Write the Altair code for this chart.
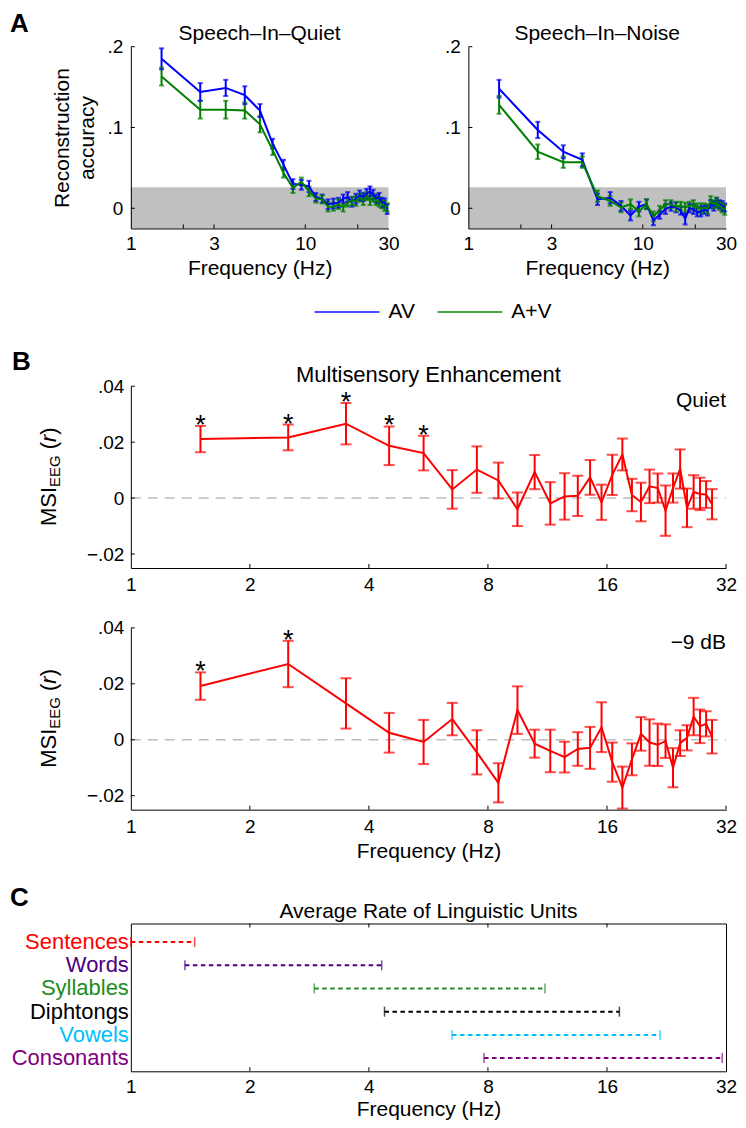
import altair as alt
import pandas as pd

FONT = "Liberation Sans"

# ---------------- data ----------------
freqs = [1.5, 2.5, 3.5, 4.5, 5.5, 6.5, 7.5, 8.5, 9.5, 10.5, 11.5, 12.5, 13.5, 14.5,
         15.5, 16.5, 17.5, 18.5, 19.5, 20.5, 21.5, 22.5, 23.5, 24.5, 25.5, 26.5,
         27.5, 28.5, 29.5]

# Panel A: reconstruction accuracy
a_series = ["AV", "A+V"]
a_colors = ["#0000ff", "#008000"]
quiet_av = [0.185, 0.144, 0.149, 0.140, 0.121, 0.080, 0.054, 0.030, 0.029, 0.027,
            0.014, 0.012, 0.005, 0.006, 0.007, 0.012, 0.014, 0.008, 0.012, 0.016,
            0.014, 0.018, 0.021, 0.017, 0.012, 0.013, 0.007, 0.007, -0.001]
quiet_av_err = [0.013, 0.011, 0.010, 0.011, 0.008, 0.006, 0.006, 0.006, 0.006, 0.007,
                0.005, 0.005, 0.006, 0.006, 0.006, 0.005, 0.006, 0.006, 0.006, 0.006,
                0.005, 0.006, 0.006, 0.006, 0.005, 0.006, 0.006, 0.005, 0.006]
quiet_apv = [0.163, 0.122, 0.122, 0.121, 0.104, 0.072, 0.044, 0.025, 0.033, 0.021,
             0.012, 0.011, 0.002, 0.002, 0.005, 0.001, 0.007, 0.009, 0.009, 0.013,
             0.010, 0.015, 0.010, 0.013, 0.009, 0.008, 0.005, 0.003, 0.001]
quiet_apv_err = [0.011, 0.011, 0.011, 0.010, 0.010, 0.006, 0.006, 0.006, 0.005, 0.006,
                 0.005, 0.005, 0.006, 0.005, 0.006, 0.005, 0.005, 0.005, 0.006, 0.005,
                 0.006, 0.005, 0.006, 0.005, 0.005, 0.006, 0.005, 0.006, 0.005]
noise_av = [0.148, 0.097, 0.070, 0.060, 0.011, 0.013, 0.003, -0.009, 0.002, 0.005,
            -0.015, -0.008, -0.001, 0.002, 0.001, -0.003, -0.013, 0.000, -0.001, -0.005,
            -0.004, -0.002, -0.003, 0.005, 0.003, 0.007, 0.005, 0.003, 0.001]
noise_av_err = [0.011, 0.010, 0.008, 0.008, 0.007, 0.007, 0.006, 0.006, 0.006, 0.006,
                0.006, 0.005, 0.006, 0.005, 0.006, 0.005, 0.007, 0.005, 0.006, 0.005,
                0.006, 0.005, 0.006, 0.005, 0.006, 0.006, 0.005, 0.006, 0.005]
noise_apv = [0.128, 0.070, 0.057, 0.057, 0.015, 0.009, 0.001, 0.005, -0.004, 0.005,
             -0.010, -0.002, 0.005, 0.005, 0.002, 0.003, 0.001, 0.003, 0.005, 0.001,
             0.000, 0.001, -0.001, 0.009, 0.005, 0.007, 0.003, 0.001, -0.002]
noise_apv_err = [0.011, 0.009, 0.007, 0.007, 0.007, 0.006, 0.006, 0.006, 0.006, 0.006,
                 0.006, 0.005, 0.005, 0.005, 0.006, 0.005, 0.006, 0.005, 0.005, 0.005,
                 0.006, 0.005, 0.006, 0.006, 0.005, 0.006, 0.005, 0.006, 0.006]
a_band_top = [0.026, 0.026]          # chance level band (Quiet, Noise)
a_titles = ["Speech\u2013In\u2013Quiet", "Speech\u2013In\u2013Noise"]
a_xdomain = [1, 30]
a_ydomain = [-0.025, 0.2]
a_xtick_vals = [1, 3, 10, 30]
a_xtick_labels = ["1", "3", "10", "30"]
a_xtick_inner = [2, 3, 10, 20]
a_ytick_vals = [0, 0.1, 0.2]
a_ytick_labels = ["0", ".1", ".2"]

# Panel B: multisensory enhancement
msi_quiet = [0.0211, 0.0217, 0.0266, 0.0187, 0.0161, 0.0031, 0.0102, 0.0063, -0.0040, 0.0093,
             -0.0019, 0.0006, 0.0008, 0.0074, -0.0015, 0.0083, 0.0156, 0.0011, -0.0014, 0.0042,
             0.0036, -0.0045, 0.0036, 0.0104, -0.0035, 0.0022, 0.0015, 0.0013, -0.0022]
msi_quiet_err = [0.0047, 0.0046, 0.0074, 0.0069, 0.0062, 0.0069, 0.0083, 0.0064, 0.0060, 0.0061,
                 0.0076, 0.0083, 0.0072, 0.0062, 0.0063, 0.0072, 0.0057, 0.0058, 0.0069, 0.0060,
                 0.0052, 0.0090, 0.0052, 0.0070, 0.0069, 0.0060, 0.0058, 0.0048, 0.0054]
msi_noise = [0.0192, 0.0271, 0.0130, 0.0025, -0.0008, 0.0074, -0.0045, -0.0154, 0.0106, -0.0014,
             -0.0040, -0.0062, -0.0033, -0.0029, 0.0045, -0.0080, -0.0171, -0.0070, 0.0021, -0.0010,
             -0.0018, -0.0005, -0.0100, -0.0012, 0.0007, 0.0083, 0.0048, 0.0057, 0.0011]
msi_noise_err = [0.0049, 0.0083, 0.0090, 0.0071, 0.0079, 0.0058, 0.0079, 0.0070, 0.0085, 0.0050,
                 0.0076, 0.0055, 0.0060, 0.0075, 0.0089, 0.0070, 0.0075, 0.0057, 0.0060, 0.0083,
                 0.0076, 0.0060, 0.0070, 0.0046, 0.0045, 0.0067, 0.0060, 0.0045, 0.0060]
sig_quiet = [1.5, 2.5, 3.5, 4.5, 5.5]
sig_noise = [1.5, 2.5]
b_conditions = ["Quiet", "\u22129 dB"]
b_title = "Multisensory Enhancement"
b_xdomain = [1, 32]
b_ydomain = [-0.025, 0.04]
b_xtick_vals = [1, 2, 4, 8, 16, 32]
b_xtick_labels = ["1", "2", "4", "8", "16", "32"]
b_xtick_inner = [2, 4, 8, 16, 32]
b_ytick_vals = [-0.02, 0, 0.02, 0.04]
b_ytick_labels = ["\u2212.02", "0", ".02", ".04"]

# Panel C: linguistic unit rates
units = ["Sentences", "Words", "Syllables", "Diphtongs", "Vowels", "Consonants"]
unit_rows = [1, 2, 3, 4, 5, 6]
unit_lo = [1.0, 1.37, 2.91, 4.38, 6.49, 7.82]
unit_hi = [1.45, 4.31, 11.15, 17.2, 21.8, 31.3]
unit_colors = ["#ff0000", "#4b0082", "#228b22", "#000000", "#00bfff", "#800080"]
c_title = "Average Rate of Linguistic Units"
c_ydomain = [0.2, 6.57]

# ---------------- helpers ----------------
def lab_expr(vals, labels):
    parts = [f"abs(datum.value - ({v})) < 1e-9 ? '{l}'" for v, l in zip(vals, labels)]
    return " : ".join(parts) + " : ''"

AX = dict(labelFont=FONT, labelFontSize=19, labelColor="black", titleFont=FONT,
          titleFontSize=21, titleFontWeight="normal", titleColor="black",
          domainColor="black", domainWidth=1, ticks=False, tickSize=0, grid=False,
          labelFlush=False, labelOverlap=False, zindex=1)


def text_layer(txt, x, y, size, align="left", baseline="alphabetic", weight="normal",
               angle=0, style="normal", color="black"):
    return alt.Chart(pd.DataFrame({"t": [txt]})).mark_text(
        font=FONT, fontSize=size, align=align, baseline=baseline, fontWeight=weight,
        angle=angle, fontStyle=style, color=color
    ).encode(text="t:N", x=alt.value(x), y=alt.value(y))


def msi_label(x0, y0):
    return [
        text_layer("MSI", x0, y0, 22, angle=270),
        text_layer("EEG", x0 + 4, y0 - 39.1, 15, angle=270),
        text_layer("(", x0, y0 - 39.1 - 31.7 - 6.1, 22, angle=270),
        text_layer("r", x0, y0 - 39.1 - 31.7 - 6.1 - 7.3, 22, angle=270, style="italic"),
        text_layer(")", x0, y0 - 39.1 - 31.7 - 6.1 - 14.6, 22, angle=270),
    ]


W = 596
GAP = 80
SUBW = (W - GAP) / 2

# ---------------- Panel A ----------------
A_H = 182
rows = []
for cond, vals_av, err_av, vals_apv, err_apv in [
    ("Quiet", quiet_av, quiet_av_err, quiet_apv, quiet_apv_err),
    ("Noise", noise_av, noise_av_err, noise_apv, noise_apv_err),
]:
    for s, v, e in [("AV", vals_av, err_av), ("A+V", vals_apv, err_apv)]:
        for f, vv, ee in zip(freqs, v, e):
            rows.append({"cond": cond, "series": s, "f": f, "val": vv,
                         "lo": vv - ee, "hi": vv + ee})
dfA = pd.DataFrame(rows)

LEG = alt.Legend(orient="none", legendX=183, legendY=232, direction="horizontal",
                 symbolType="stroke", symbolSize=4225, symbolStrokeWidth=2,
                 labelFont=FONT, labelFontSize=21, labelColor="black",
                 title=None, columnPadding=18, labelOffset=8, padding=0)


def a_sub(idx, cond, xr):
    d = dfA[dfA.cond == cond]
    xs = alt.Scale(type="log", domain=a_xdomain, range=xr)
    ys = alt.Scale(domain=a_ydomain)
    cs = alt.Scale(domain=a_series, range=a_colors)
    xaxis = alt.Axis(orient="bottom", values=a_xtick_vals,
                     labelExpr=lab_expr(a_xtick_vals, a_xtick_labels),
                     title="Frequency (Hz)", labelPadding=6, titlePadding=4, **AX)
    yaxis = alt.Axis(orient="left", offset=-xr[0], values=a_ytick_vals,
                     labelExpr=lab_expr(a_ytick_vals, a_ytick_labels),
                     title=["Reconstruction", "accuracy"] if idx == 0 else None,
                     titleLineHeight=25, titlePadding=10, labelPadding=8, **AX)

    def X(field):
        return alt.X(field, type="quantitative", scale=xs, axis=xaxis)

    def Y(field):
        return alt.Y(field, type="quantitative", scale=ys, axis=yaxis)

    col = alt.Color("series:N", scale=cs, legend=LEG)
    band_df = pd.DataFrame({"x1": [a_xdomain[0]], "x2": [a_xdomain[1]],
                            "y1": [a_ydomain[0]], "y2": [a_band_top[idx]]})
    band = alt.Chart(band_df).mark_rect(color="#c0c0c0").encode(
        x=X("x1"), x2="x2:Q", y=Y("y1"), y2="y2:Q")
    bars = alt.Chart(d).mark_rule(strokeWidth=2).encode(
        x=X("f"), y=Y("lo"), y2="hi:Q", color=col)
    cap_hi = alt.Chart(d).mark_tick(orient="horizontal", size=5, thickness=2).encode(
        x=X("f"), y=Y("hi"), color=col)
    cap_lo = alt.Chart(d).mark_tick(orient="horizontal", size=5, thickness=2).encode(
        x=X("f"), y=Y("lo"), color=col)
    line = alt.Chart(d).mark_line(strokeWidth=2).encode(
        x=X("f"), y=Y("val"), color=col, order="f:Q")
    xt = alt.Chart(pd.DataFrame({"t": a_xtick_inner})).mark_rule(color="black").encode(
        x=X("t"), y=alt.value(A_H), y2=alt.value(A_H - 4))
    yt = alt.Chart(pd.DataFrame({"t": a_ytick_vals})).mark_rule(color="black").encode(
        y=Y("t"), x=alt.value(xr[0]), x2=alt.value(xr[0] + 4))
    title = text_layer(a_titles[idx], (xr[0] + xr[1]) / 2, -7, 21, align="center")
    layers = [band, bars, cap_hi, cap_lo, line, xt, yt, title]
    if idx == 0:
        layers.append(text_layer("A", -121, -15, 26, weight="bold"))
    return alt.layer(*layers)


rowA = alt.layer(a_sub(0, "Quiet", [0, SUBW]), a_sub(1, "Noise", [SUBW + GAP, W])).resolve_scale(
    x="independent", y="independent").properties(width=W, height=A_H)

# ---------------- Panel B ----------------
B_H = 182


def b_panel(vals, errs, sig, cond_text, top):
    d = pd.DataFrame({"f": freqs, "val": vals, "err": errs})
    d["lo"] = d.val - d.err
    d["hi"] = d.val + d.err
    xs = alt.Scale(type="log", base=2, domain=b_xdomain)
    ys = alt.Scale(domain=b_ydomain)
    xaxis = alt.Axis(values=b_xtick_vals, labelExpr=lab_expr(b_xtick_vals, b_xtick_labels),
                     title=None if top else "Frequency (Hz)", labelPadding=8,
                     titlePadding=4, **AX)
    yaxis = alt.Axis(values=b_ytick_vals, labelExpr=lab_expr(b_ytick_vals, b_ytick_labels),
                     title=None, labelPadding=7, **AX)

    def X(field):
        return alt.X(field, type="quantitative", scale=xs, axis=xaxis)

    def Y(field):
        return alt.Y(field, type="quantitative", scale=ys, axis=yaxis)

    zero = alt.Chart(pd.DataFrame({"x1": [b_xdomain[0]], "x2": [b_xdomain[1]], "y": [0]})).mark_rule(
        color="#bdbdbd", strokeWidth=1.5, strokeDash=[10, 7]).encode(
        x=X("x1"), x2="x2:Q", y=Y("y"))
    line = alt.Chart(d).mark_line(color="#ff0000", strokeWidth=2).encode(x=X("f"), y=Y("val"))
    bars = alt.Chart(d).mark_rule(color="#ff0000", strokeWidth=2).encode(
        x=X("f"), y=Y("lo"), y2="hi:Q")
    cap_hi = alt.Chart(d).mark_tick(orient="horizontal", size=11, thickness=2, color="#ff0000").encode(
        x=X("f"), y=Y("hi"))
    cap_lo = alt.Chart(d).mark_tick(orient="horizontal", size=11, thickness=2, color="#ff0000").encode(
        x=X("f"), y=Y("lo"))
    stars = alt.Chart(d[d.f.isin(sig)]).mark_text(
        text="*", font=FONT, fontSize=27, dy=8, baseline="alphabetic", color="black").encode(
        x=X("f"), y=Y("hi"))
    xt = alt.Chart(pd.DataFrame({"t": b_xtick_inner})).mark_rule(color="black").encode(
        x=X("t"), y=alt.value(B_H), y2=alt.value(B_H - 4))
    yt = alt.Chart(pd.DataFrame({"t": b_ytick_vals})).mark_rule(color="black").encode(
        y=Y("t"), x=alt.value(0), x2=alt.value(4))
    layers = [zero, bars, cap_hi, cap_lo, line, stars, xt, yt,
              text_layer(cond_text, W, 21, 21, align="right")]
    layers += msi_label(-75, 140)
    if top:
        layers.append(text_layer(b_title, W / 2, -4, 22, align="center"))
        layers.append(text_layer("B", -119, -16, 26, weight="bold"))
    return alt.layer(*layers).properties(width=W, height=B_H)


bTop = b_panel(msi_quiet, msi_quiet_err, sig_quiet, b_conditions[0], True)
bBot = b_panel(msi_noise, msi_noise_err, sig_noise, b_conditions[1], False)

# ---------------- Panel C ----------------
C_H = 148
dfC = pd.DataFrame({"unit": units, "row": unit_rows, "lo": unit_lo, "hi": unit_hi,
                    "col": unit_colors})
xsC = alt.Scale(type="log", base=2, domain=b_xdomain)
ysC = alt.Scale(domain=c_ydomain, reverse=True)
xaxisC = alt.Axis(values=b_xtick_vals, labelExpr=lab_expr(b_xtick_vals, b_xtick_labels),
                  title="Frequency (Hz)", labelPadding=6, titlePadding=2,
                  **{**AX, "domain": False})


def XC(field):
    return alt.X(field, type="quantitative", scale=xsC, axis=xaxisC)


def YC(field):
    return alt.Y(field, type="quantitative", scale=ysC, axis=None)


colC = alt.Color("col:N", scale=None)
c_dash = alt.Chart(dfC).mark_rule(strokeWidth=2, strokeDash=[4.5, 3.5]).encode(
    x=XC("lo"), x2="hi:Q", y=YC("row"), color=colC)
c_lo = alt.Chart(dfC).mark_tick(orient="vertical", size=10, thickness=1.5).encode(
    x=XC("lo"), y=YC("row"), color=colC)
c_hi = alt.Chart(dfC).mark_tick(orient="vertical", size=10, thickness=1.5).encode(
    x=XC("hi"), y=YC("row"), color=colC)
c_lab = alt.Chart(dfC).mark_text(font=FONT, fontSize=22, align="right", baseline="middle").encode(
    x=alt.value(-2), y=YC("row"), text="unit:N", color=colC)
c_xt_bot = alt.Chart(pd.DataFrame({"t": b_xtick_inner[:-1]})).mark_rule(color="black").encode(
    x=XC("t"), y=alt.value(C_H), y2=alt.value(C_H - 4))
c_xt_top = alt.Chart(pd.DataFrame({"t": b_xtick_inner[:-1]})).mark_rule(color="black").encode(
    x=XC("t"), y=alt.value(0), y2=alt.value(4))
rowC = alt.layer(
    c_dash, c_lo, c_hi, c_lab, c_xt_bot, c_xt_top,
    text_layer(c_title, W / 2, -6, 21, align="center"),
    text_layer("C", -121, -18, 26, weight="bold"),
).properties(width=W, height=C_H, view=alt.ViewBackground(stroke="black", strokeWidth=1))


def spacer(h):
    return alt.Chart(pd.DataFrame({"a": [0]})).mark_point(opacity=0).encode(
        x=alt.value(0), y=alt.value(0)).properties(width=W, height=h)


chart = alt.vconcat(
    rowA, spacer(158), bTop, spacer(60), bBot, spacer(114), rowC,
    spacing=0, bounds="flush"
).properties(
    padding={"left": 1, "top": 2, "right": 0, "bottom": 0}
).configure(font=FONT).configure_view(stroke=None)

chart.save("out.html", embed_options={"renderer": "svg", "actions": False})
